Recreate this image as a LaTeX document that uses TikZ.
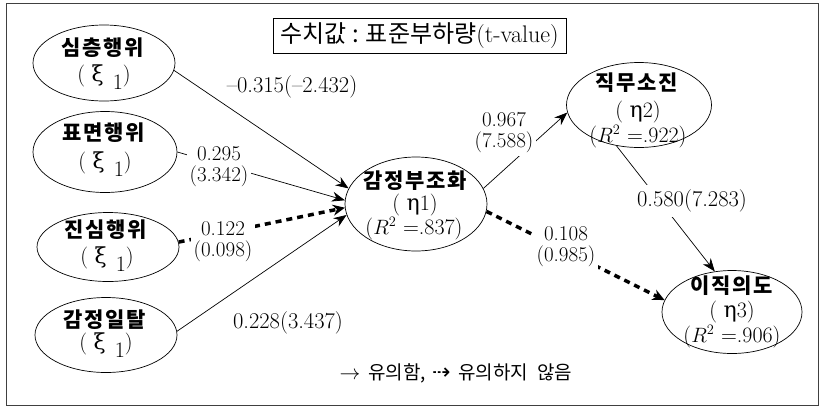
\documentclass[tikz,border=0pt]{standalone}
\usepackage{fontspec}
\newfontfamily\kr{Noto Sans CJK KR}
\newfontfamily\sym{DejaVu Sans}
\newfontfamily\grk{DejaVu Serif}
\usetikzlibrary{shapes.geometric,arrows.meta,calc}
\newcommand{\xione}{( {\grk ξ}\hspace{9pt}\raisebox{-8pt}{1})}
\begin{document}
\begin{tikzpicture}[x=1pt,y=-1pt,
  frame/.style={draw=black!75,line width=1pt},
  ell/.style={draw,ellipse,inner sep=0pt,line width=0.7pt},
  nm/.style={anchor=base,inner sep=0pt,font=\kr\bfseries\fontsize{21}{22}\selectfont\addfontfeature{LetterSpace=8}},
  sb/.style={anchor=base,inner sep=0pt,font=\fontsize{22}{24}\selectfont},
  num/.style={inner sep=1pt,font=\fontsize{22.5}{24}\selectfont},
  stk/.style={align=center,fill=white,inner sep=3pt,font=\fontsize{21}{21}\selectfont\addfontfeature{FakeStretch=0.85}},
  sig/.style={line width=0.7pt,-{Stealth[length=13pt,width=10pt]}},
  nsig/.style={line width=3.5pt,dash pattern=on 6pt off 5pt,-{Stealth[length=12pt,width=11pt]}},
]
\useasboundingbox (0,0) rectangle (827,408);
\draw[frame] (6,3) rectangle (818,405);

% title
\node[draw,line width=0.8pt,minimum width=293pt,minimum height=35pt,inner sep=0pt,
      font=\kr\fontsize{24}{24}\selectfont] (title) at (419.5,35.5)
      {수치값 : 표준부하량{\rmfamily\fontsize{24}{24}\selectfont\addfontfeature{FakeStretch=1.2}(t-value)}};

% ellipses
\node[ell,minimum width=142pt,minimum height=76pt] (e1) at (104,63) {};
\node[ell,minimum width=144pt,minimum height=81pt] (e2) at (105,152) {};
\node[ell,minimum width=142pt,minimum height=69pt] (e3) at (108,247) {};
\node[ell,minimum width=142pt,minimum height=75pt] (e4) at (106,335) {};
\node[ell,minimum width=142pt,minimum height=94pt] (m)  at (416,204) {};
\node[ell,minimum width=145pt,minimum height=85pt] (o2) at (639,105) {};
\node[ell,minimum width=140pt,minimum height=83pt] (o3) at (732,312) {};

% connectors
\draw[sig]  (e1.-6)  -- (m.167);
\draw[sig]  (e2.east) -- (m.177);
\draw[nsig] (e3.4)   -- (m.183);
\draw[sig]  (e4.3)   -- (m.189);
\draw[sig]  (m.13)   -- (o2.186);
\draw[nsig] (m.-6)   -- (o3.170);
\draw[sig]  (o2.-119) -- (o3.113);

% path labels
\node[num] (l1) at (292,87) {–0.315(–2.432)};
\node[stk] (l2) at (219,167) {0.295\\(3.342)};
\node[stk] (l3) at (223,242) {0.122\\(0.098)};
\node[num] (l4) at (288,323) {0.228(3.437)};
\node[stk] (l5) at (504,133) {0.967\\(7.588)};
\node[num,fill=white,inner sep=5pt] (l6) at (692,201) {0.580(7.283)};
\node[stk] (l7) at (566,247) {0.108\\(0.985)};

% node texts
\node[nm] (t1) at (103,55) {심층행위};
\node[sb] (s1) at (104,81) {\xione};
\node[nm] (t2) at (104,140) {표면행위};
\node[sb] (s2) at (105,168) {\xione};
\node[nm] (t3) at (106,237) {진심행위};
\node[sb] (s3) at (107,263) {\xione};
\node[nm] (t4) at (105,327) {감정일탈};
\node[sb] (s4) at (106,349) {\xione};

\node[nm] (tm) at (415,188) {감정부조화};
\node[sb] (sm) at (415,210) {( {\grk η}1)};
\node[sb] (rm) at (414,234) {($R^2$ =.837)};

\node[nm] (to2) at (637,90) {직무소진};
\node[sb] (so2) at (638,117) {( {\grk η}2)};
\node[sb] (ro2) at (638,142) {($R^2$ =.922)};

\node[nm] (to3) at (732,293) {이직의도};
\node[sb] (so3) at (732,317) {( {\grk η}3)};
\node[sb] (ro3) at (732,342) {($R^2$ =.906)};

% legend
\node[font=\kr\fontsize{19}{20}\selectfont] (leg) at (456,373)
  {{\fontsize{22}{22}\selectfont$\rightarrow$}\hspace{8pt}유의함,\hspace{6pt}{\sym\fontsize{22}{22}\selectfont ⇢}\hspace{8pt}유의하지\hspace{9pt}않음};
\end{tikzpicture}
\end{document}
